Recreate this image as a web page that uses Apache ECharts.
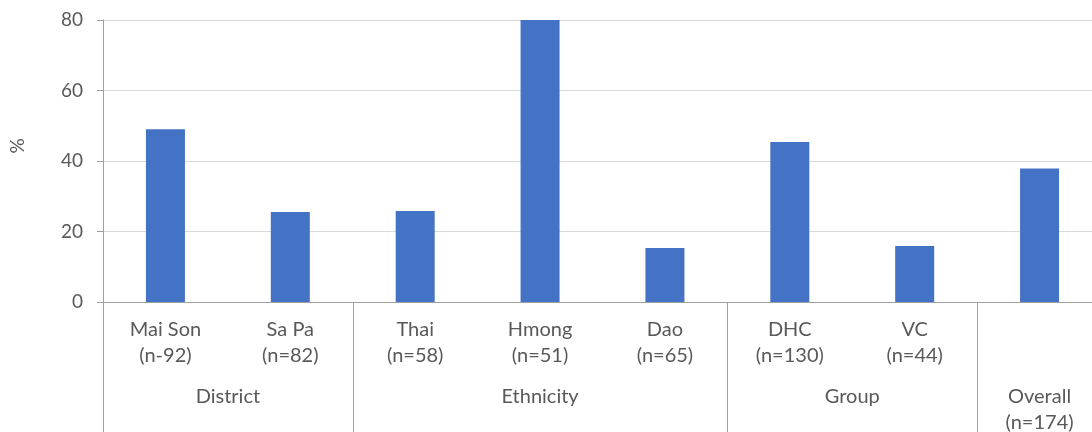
<!DOCTYPE html>
<html>
<head>
<meta charset="utf-8">
<script src="https://cdn.jsdelivr.net/npm/echarts@6/dist/echarts.min.js"></script>
<style>
  html, body { margin: 0; padding: 0; background: #fff; }
  #chart { width: 1092px; height: 432px; }
</style>
</head>
<body>
<div id="chart"></div>
<script>
// Subgroup labels (two lines: name and sample size)
const categories = [
  'Mai Son\n(n-92)', 'Sa Pa\n(n=82)', 'Thai\n(n=58)', 'Hmong\n(n=51)',
  'Dao\n(n=65)', 'DHC\n(n=130)', 'VC\n(n=44)', ''
];
// Percentage per subgroup
const values = [49.0, 25.5, 25.8, 80.0, 15.3, 45.4, 15.9, 37.9];
// Outer grouping of the categories
const groupNames = ['District', 'Ethnicity', 'Group', 'Overall\n(n=174)'];
const groupSizes = [2, 3, 2, 1];
// Y axis ticks
const yTicks = [0, 20, 40, 60, 80];

// Group boundaries and centres in category units
const groupStarts = [];
const groupCenters = [];
let acc = 0;
groupSizes.forEach(function (n) {
  groupStarts.push(acc);
  groupCenters.push(acc + n / 2);
  acc += n;
});

const textColor = '#595959';
const fontFamily = 'Lato, "Noto Sans", sans-serif';
const axisGray = '#a0a0a0';

const chart = echarts.init(document.getElementById('chart'), null, { renderer: 'canvas' });
chart.setOption({
  animation: false,
  backgroundColor: '#ffffff',
  grid: {
    left: 103, right: -10, top: 20, bottom: 130,
    containLabel: false,
    outerBoundsMode: 'none'
  },
  xAxis: [
    {
      type: 'category',
      data: categories,
      axisLine: { show: true, lineStyle: { color: axisGray, width: 1 } },
      axisTick: { show: false },
      axisLabel: {
        interval: 0,
        margin: 15,
        color: textColor,
        fontFamily: fontFamily,
        fontSize: 20,
        lineHeight: 26
      },
      splitLine: { show: false }
    },
    {
      type: 'value',
      position: 'bottom',
      min: 0,
      max: categories.length,
      axisLine: { show: false },
      axisTick: {
        show: true,
        inside: false,
        length: 140,
        customValues: groupStarts,
        lineStyle: { color: axisGray, width: 1 }
      },
      axisLabel: {
        show: true,
        margin: 82,
        customValues: groupCenters,
        color: textColor,
        fontFamily: fontFamily,
        fontSize: 20,
        lineHeight: 26,
        formatter: function (v) {
          const i = groupCenters.findIndex(function (c) { return Math.abs(c - v) < 1e-6; });
          return i >= 0 ? groupNames[i] : '';
        }
      },
      splitLine: { show: false }
    }
  ],
  yAxis: {
    type: 'value',
    min: yTicks[0],
    max: yTicks[yTicks.length - 1],
    interval: yTicks[1] - yTicks[0],
    name: '%',
    nameLocation: 'middle',
    nameGap: 76,
    nameRotate: 90,
    nameTextStyle: {
      color: textColor,
      fontFamily: fontFamily,
      fontSize: 19,
      padding: [0, 0, 0, 30]
    },
    axisLine: { show: true, lineStyle: { color: axisGray, width: 1 } },
    axisTick: { show: true, length: 6, lineStyle: { color: axisGray } },
    axisLabel: {
      margin: 20,
      color: textColor,
      fontFamily: fontFamily,
      fontSize: 19
    },
    splitLine: { show: true, lineStyle: { color: '#d9d9d9', width: 1 } }
  },
  series: [
    {
      type: 'bar',
      xAxisIndex: 0,
      data: values,
      barWidth: 39,
      itemStyle: { color: '#4472C4' }
    }
  ]
});
</script>
</body>
</html>
